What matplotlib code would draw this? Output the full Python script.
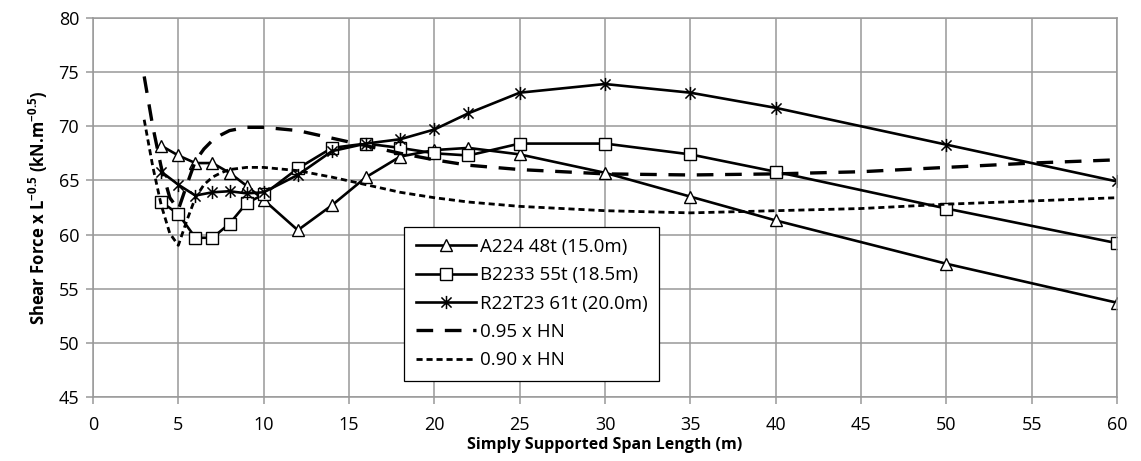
import numpy as np
import matplotlib.pyplot as plt
from matplotlib.path import Path

plt.rcParams['font.family'] = ['Open Sans', 'DejaVu Sans']
plt.rcParams['mathtext.fontset'] = 'custom'
plt.rcParams['mathtext.rm'] = 'Open Sans'
plt.rcParams['mathtext.bf'] = 'Open Sans:bold'

# truck series (span m -> shear force x L^-0.5)
span = [4, 5, 6, 7, 8, 9, 10, 12, 14, 16, 18, 20, 22, 25, 30, 35, 40, 50, 60]
a224 = [68.2, 67.3, 66.6, 66.6, 65.7, 64.5, 63.2, 60.4, 62.7, 65.3, 67.2, 67.8,
        68.0, 67.4, 65.7, 63.5, 61.3, 57.3, 53.7]
b2233 = [63.0, 61.9, 59.7, 59.7, 61.0, 62.9, 63.7, 66.1, 68.0, 68.4, 68.0, 67.5,
         67.3, 68.4, 68.4, 67.4, 65.8, 62.4, 59.2]
r22t23 = [65.8, 64.6, 63.6, 63.9, 64.0, 63.8, 63.9, 65.5, 67.7, 68.4, 68.8, 69.7,
          71.2, 73.1, 73.9, 73.1, 71.7, 68.3, 64.9]

# HN envelope curves
hn_span = [3, 3.5, 4, 4.5, 5, 5.5, 6, 6.5, 7, 7.5, 8, 9, 10, 12, 14, 16, 18, 20,
           22, 25, 30, 35, 40, 45, 50, 55, 60]
hn95 = [74.6, 70.0, 66.2, 63.4, 62.3, 64.6, 66.8, 67.9, 68.7, 69.2, 69.6, 69.9,
        69.9, 69.6, 68.9, 68.2, 67.5, 66.9, 66.4, 66.0, 65.6, 65.5, 65.6, 65.8,
        66.2, 66.6, 66.9]
hn90 = [70.6, 66.3, 62.7, 60.1, 59.0, 61.3, 63.4, 64.6, 65.3, 65.7, 66.0, 66.2,
        66.2, 65.9, 65.3, 64.6, 63.9, 63.4, 63.0, 62.6, 62.2, 62.0, 62.2, 62.4,
        62.8, 63.1, 63.4]

labels = ['A224 48t (15.0m)', 'B2233 55t (18.5m)', 'R22T23 61t (20.0m)',
          '0.95 x HN', '0.90 x HN']

# excel style star: X with a vertical bar
star = Path([(-1, -1), (1, 1), (-1, 1), (1, -1), (0, -1.3), (0, 1.3)],
            [Path.MOVETO, Path.LINETO, Path.MOVETO, Path.LINETO, Path.MOVETO, Path.LINETO])

fig = plt.figure(figsize=(11.41, 4.61), dpi=100)
ax = fig.add_axes([0.0815, 0.139, 0.8975, 0.822])

ax.plot(span, a224, color='black', lw=1.9, marker='^', ms=8, mfc='white',
        mec='black', mew=1.0, label=labels[0])
ax.plot(span, b2233, color='black', lw=1.9, marker='s', ms=8, mfc='white',
        mec='black', mew=1.0, label=labels[1])
ax.plot(span, r22t23, color='black', lw=1.9, marker=star, ms=9.5, mec='black',
        mew=1.1, label=labels[2])
ax.plot(hn_span, hn95, color='black', lw=2.4, ls=(0, (5, 3.5)), label=labels[3])
ax.plot(hn_span, hn90, color='black', lw=2.0, ls=(0, (2.2, 1.4)), label=labels[4])

ax.set_xlim(0, 60)
ax.set_ylim(45, 80)
ax.set_xticks(np.arange(0, 61, 5))
ax.set_yticks(np.arange(45, 81, 5))
ax.grid(True, color='#999999', lw=1.1)
ax.set_axisbelow(True)
for s in ax.spines.values():
    s.set_color('#999999')
    s.set_linewidth(1.1)
ax.tick_params(axis='both', colors='#999999', length=5, width=1.1,
               labelcolor='black', labelsize=13)
ax.tick_params(axis='x', pad=9)
ax.tick_params(axis='y', pad=5)

ax.set_xlabel('Simply Supported Span Length (m)', fontsize=11.5, fontweight='bold', labelpad=2)
ax.set_ylabel(r'Shear Force x L$^{\mathbf{-0.5}}$ (kN.m$^{\mathbf{-0.5}}$)',
              fontsize=12, fontweight='bold', labelpad=6)

leg = ax.legend(loc='upper left', bbox_to_anchor=(0.304, 0.449), fontsize=13.5,
                frameon=True, fancybox=False, framealpha=1, edgecolor='black',
                handlelength=3.2, handletextpad=0.25, labelspacing=0.55,
                borderpad=0.6, borderaxespad=0)
leg.get_frame().set_linewidth(0.9)

plt.savefig('out.png', dpi=100)
